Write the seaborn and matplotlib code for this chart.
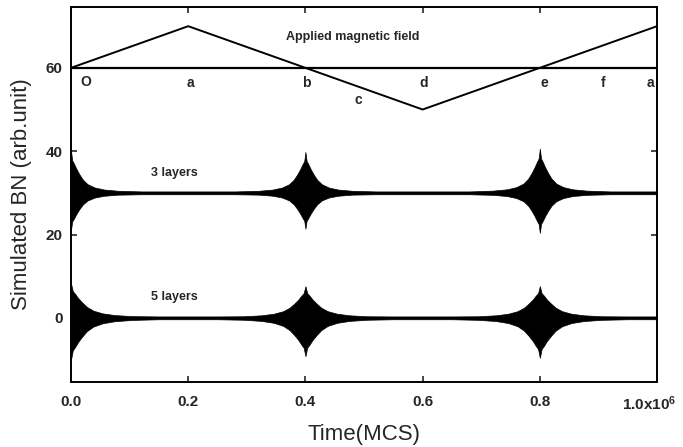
import matplotlib
matplotlib.use("Agg")
import matplotlib.pyplot as plt
import matplotlib.transforms as mtransforms
import pandas as pd
import seaborn as sns

# Time axis is in units of 1e6 Monte Carlo steps
# Applied field: triangular sweep through its vertices
field_time = [0.0, 0.2, 0.6, 1.0]
field_value = [60, 70, 50, 70]
field_zero_level = 60

# Letters marking points of the field cycle
point_labels = ["O", "a", "b", "c", "d", "e", "f", "a"]
point_time = [0.025, 0.203, 0.402, 0.490, 0.602, 0.808, 0.908, 0.988]
point_level = [56.5, 56.4, 56.4, 52.2, 56.4, 56.4, 56.4, 56.4]

# Barkhausen-noise bursts: centre times, peak excursions above/below baseline
burst_time = [0.0, 0.4, 0.8]
layer3_base = 30
layer3_peak_up = [10.0, 9.8, 10.6]
layer3_peak_down = [8.8, 8.6, 9.6]
layer5_base = 0
layer5_peak_up = [8.2, 7.6, 7.6]
layer5_peak_down = [10.0, 9.2, 9.6]

# Envelope decay away from a burst centre (offset in time, fraction of peak)
layer3_dx = [0.0, 0.002, 0.005, 0.009, 0.014, 0.020, 0.028, 0.040, 0.056, 0.080, 0.120]
layer5_dx = [0.0, 0.003, 0.007, 0.012, 0.019, 0.027, 0.038, 0.054, 0.075, 0.105, 0.150]
burst_shape = [1.0, 0.78, 0.70, 0.58, 0.45, 0.32, 0.21, 0.13, 0.08, 0.05, 0.03]
baseline_halfwidth = 0.34

x_ticks = [0.0, 0.2, 0.4, 0.6, 0.8, 1.0]
x_ticklabels = ["0.0", "0.2", "0.4", "0.6", "0.8", "1.0x10$^6$"]
y_ticks = [0, 20, 40, 60]


def envelope(base, peaks_up, peaks_down, dx):
    """Upper/lower outline of the noise band built from the burst envelopes."""
    rows = []
    for centre, pu, pd_ in zip(burst_time, peaks_up, peaks_down):
        for side in (-1, 1):
            for off, frac in zip(dx, burst_shape):
                t = centre + side * off
                if 0.0 <= t <= 1.0:
                    rows.append((t, max(pu * frac, baseline_halfwidth),
                                 max(pd_ * frac, baseline_halfwidth)))
    rows.append((1.0, baseline_halfwidth, baseline_halfwidth))
    df = pd.DataFrame(rows, columns=["t", "up", "down"]).sort_values("t")
    df = df.groupby("t", as_index=False).max()
    return df["t"], base + df["up"], base - df["down"]


sns.set_style("ticks")
plt.rcParams["font.family"] = ["Liberation Sans", "DejaVu Sans"]
plt.rcParams["mathtext.fontset"] = "custom"
plt.rcParams["mathtext.rm"] = "Liberation Sans"
plt.rcParams["mathtext.bf"] = "Liberation Sans:bold"
plt.rcParams["mathtext.default"] = "bf"

fig = plt.figure(figsize=(6.83, 4.47), dpi=100)
ax = fig.add_axes([0.104, 0.1454, 0.858, 0.8389])

# Applied field and its zero level
field_df = pd.DataFrame({"time": field_time, "field": field_value})
sns.lineplot(data=field_df, x="time", y="field", ax=ax, color="black",
             linewidth=1.4, estimator=None, sort=False)
ax.axhline(field_zero_level, color="black", linewidth=1.6)

# Noise bands for the two film thicknesses
for base, pu, pdn, dx in [(layer3_base, layer3_peak_up, layer3_peak_down, layer3_dx),
                          (layer5_base, layer5_peak_up, layer5_peak_down, layer5_dx)]:
    t, upper, lower = envelope(base, pu, pdn, dx)
    ax.fill_between(t, lower, upper, color="black", linewidth=0.5,
                    edgecolor="black")

# Annotations
ax.text(0.481, 67.4, "Applied magnetic field", ha="center", va="center",
        fontsize=9, fontweight="bold")
ax.text(0.177, 34.8, "3 layers", ha="center", va="center",
        fontsize=9, fontweight="bold")
ax.text(0.177, 5.0, "5 layers", ha="center", va="center",
        fontsize=9, fontweight="bold")
for lab, t, lv in zip(point_labels, point_time, point_level):
    ax.text(t, lv, lab, ha="center", va="center", fontsize=10,
            fontweight="bold")

ax.set_xlim(0.0, 1.0)
ax.set_ylim(-15.4, 74.6)
ax.set_xticks(x_ticks)
ax.set_xticklabels(x_ticklabels)
ax.set_yticks(y_ticks)
ax.tick_params(direction="in", length=4, width=1.2, top=True, right=True,
               labelsize=11)
ax.tick_params(axis="x", pad=9)
ax.tick_params(axis="y", pad=6)
for lab in ax.get_xticklabels() + ax.get_yticklabels():
    lab.set_fontweight("bold")
# keep the exponent label inside the figure
last = ax.get_xticklabels()[-1]
last.set_transform(last.get_transform() +
                   mtransforms.ScaledTranslation(-8 / 100, 0, fig.dpi_scale_trans))
for sp in ax.spines.values():
    sp.set_linewidth(1.4)
    sp.set_color("black")

ax.set_xlabel("Time(MCS)", fontsize=16, labelpad=8)
ax.set_ylabel("Simulated BN (arb.unit)", fontsize=16, labelpad=10)

fig.savefig("out.png", dpi=100, facecolor="white")
